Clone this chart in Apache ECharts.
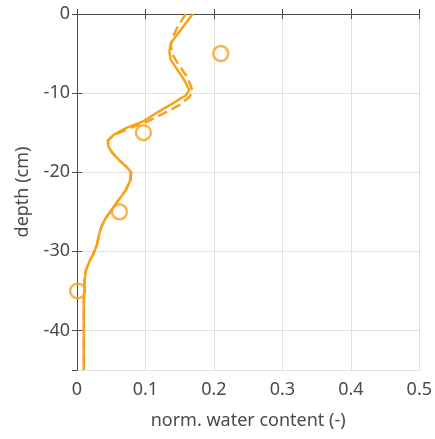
<!DOCTYPE html>
<html>
<head>
<meta charset="utf-8">
<script src="https://cdn.jsdelivr.net/npm/echarts@6/dist/echarts.min.js"></script>
<style>html,body{margin:0;padding:0;background:#fff}#c{width:435px;height:439px}</style>
</head>
<body>
<div id="c"></div>
<script>
// water content (x) and depth in cm (negative, downwards)
const solidX = [0.169,0.149,0.137,0.135,0.137,0.147,0.157,0.164,0.159,0.149,0.140,0.120,0.096,0.072,0.053,0.045,0.046,0.052,0.062,0.072,0.079,0.078,0.071,0.060,0.050,0.042,0.036,0.032,0.029,0.024,0.018,0.013,0.011,0.010,0.010];
const solidD = [0,-2.3,-3.7,-4.8,-5.8,-7.1,-8.4,-9.6,-10.3,-10.8,-11.3,-12.3,-13.6,-14.4,-15.3,-16.0,-16.8,-17.6,-18.5,-19.3,-20.0,-21.0,-22.3,-23.6,-24.8,-25.8,-26.8,-28.0,-29.2,-30.3,-31.3,-32.4,-33.8,-36.5,-45];
const dashX = [0.159,0.147,0.140,0.137,0.140,0.149,0.159,0.166,0.169,0.164,0.150,0.126,0.100,0.075,0.054,0.045,0.046,0.052,0.062,0.072,0.079,0.078,0.071,0.060,0.050,0.042,0.036,0.032,0.029,0.024,0.018,0.013,0.011,0.010,0.010];
const dashD = [0,-1.6,-2.9,-4.0,-5.2,-6.5,-7.7,-9.0,-9.8,-10.5,-11.5,-12.6,-13.7,-14.5,-15.3,-16.0,-16.8,-17.6,-18.5,-19.3,-20.0,-21.0,-22.3,-23.6,-24.8,-25.8,-26.8,-28.0,-29.2,-30.3,-31.3,-32.4,-33.8,-36.5,-45];
const obsX = [0.210,0.097,0.062,0.001];
const obsD = [-5,-15,-25,-35];
const xTicks = [0,0.1,0.2,0.3,0.4,0.5];
const yTicks = [0,-10,-20,-30,-40];

const ORANGE = '#F7A21B';
const AX = '#4a4a4a';
const FONT = 'Noto Sans';
const FS = 18;
const pairs = (xs, ds) => xs.map((x, i) => [x, -ds[i]]);

const chart = echarts.init(document.getElementById('c'));
const baseX = {
  type: 'value', min: xTicks[0], max: xTicks[xTicks.length-1], interval: 0.1,
  axisLine: {show: true, lineStyle: {color: AX, width: 1}},
  axisTick: {show: true, inside: true, length: 5, lineStyle: {color: AX}},
};
const baseY = {
  type: 'value', inverse: true, min: 0, max: 45, interval: 10,
  axisLine: {show: true, lineStyle: {color: AX, width: 1}},
  axisTick: {show: true, inside: true, length: 5, lineStyle: {color: AX}},
};
chart.setOption({
  animation: false,
  grid: {left: 77, top: 14, width: 345, height: 356, containLabel: false},
  xAxis: [
    Object.assign({}, baseX, {
      position: 'bottom',
      name: 'norm. water content (-)', nameLocation: 'middle', nameGap: 42,
      nameTextStyle: {color: AX, fontFamily: FONT, fontSize: FS},
      axisLabel: {color: AX, fontFamily: FONT, fontSize: FS, margin: 11,
        formatter: v => String(Math.round(v*10)/10)},
      splitLine: {show: true, lineStyle: {color: '#e0e0e0', width: 1}}
    }),
    Object.assign({}, baseX, {position: 'top', axisLabel: {show: false}, splitLine: {show: false}})
  ],
  yAxis: [
    Object.assign({}, baseY, {
      position: 'left',
      name: 'depth (cm)', nameLocation: 'middle', nameGap: 45,
      nameTextStyle: {color: AX, fontFamily: FONT, fontSize: FS},
      axisLabel: {color: AX, fontFamily: FONT, fontSize: FS, margin: 7, showMaxLabel: false,
        formatter: v => v === 0 ? '0' : String(-v)},
      splitLine: {show: true, lineStyle: {color: '#e0e0e0', width: 1}}
    }),
    Object.assign({}, baseY, {position: 'right', axisLabel: {show: false}, splitLine: {show: false}})
  ],
  series: [
    {type: 'line', data: pairs(dashX, dashD), symbol: 'none', smooth: false,
     lineStyle: {color: ORANGE, width: 2.5, type: [10, 5]}, z: 3},
    {type: 'line', data: pairs(solidX, solidD), symbol: 'none', smooth: false,
     lineStyle: {color: ORANGE, width: 2.5}, z: 4},
    {type: 'scatter', data: pairs(obsX, obsD), symbol: 'circle', symbolSize: 15,
     itemStyle: {color: 'rgba(0,0,0,0)', borderColor: ORANGE, borderWidth: 2.5}, z: 5}
  ]
});
</script>
</body>
</html>
